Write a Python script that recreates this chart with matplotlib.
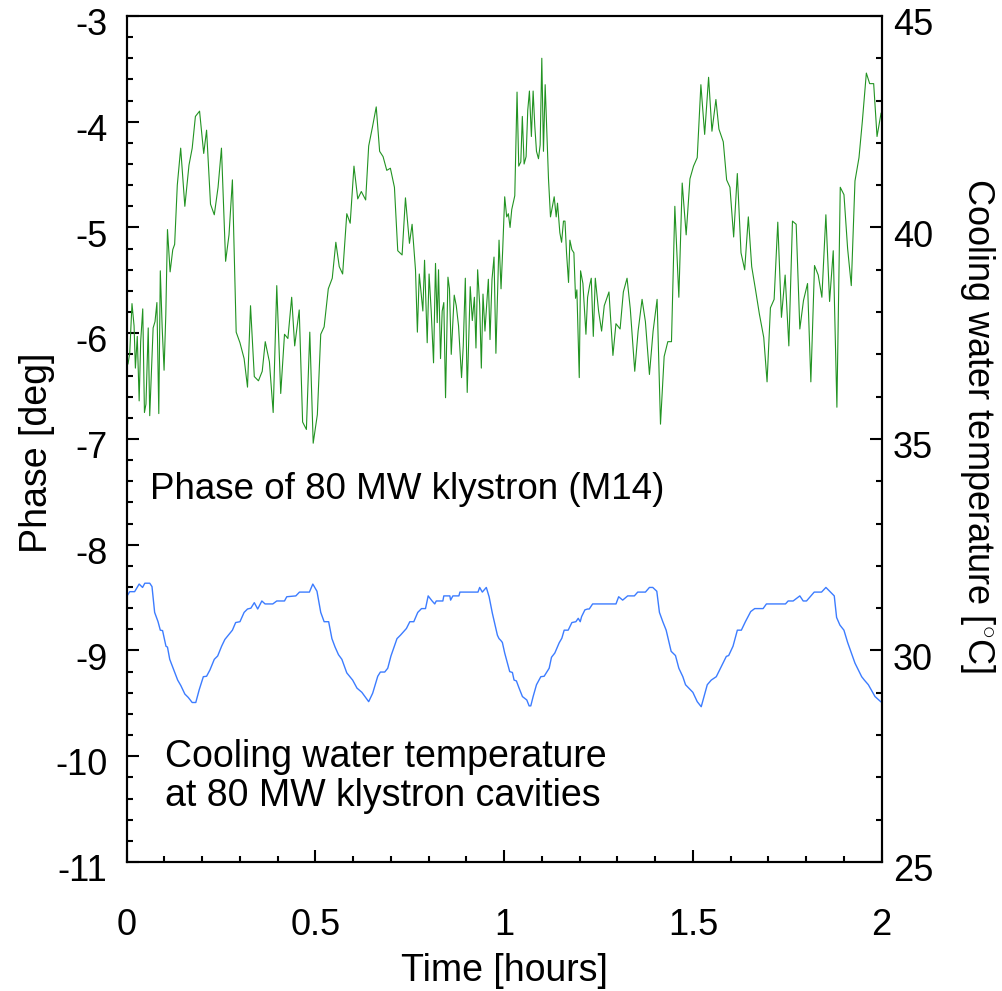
import matplotlib
matplotlib.use("Agg")
import matplotlib.pyplot as plt
from matplotlib.ticker import MultipleLocator, FormatStrFormatter
from matplotlib.transforms import ScaledTranslation

plt.rcParams['font.family'] = ['Liberation Sans', 'DejaVu Sans']
plt.rcParams['axes.unicode_minus'] = False
plt.rcParams['mathtext.fontset'] = 'custom'
plt.rcParams['mathtext.rm'] = 'Liberation Sans'

# phase of 80 MW klystron (M14), deg
phase_t = [0.0035, 0.008, 0.014, 0.0195, 0.023, 0.028, 0.033, 0.037, 0.0425, 0.047,
           0.051, 0.057, 0.061, 0.0655, 0.070, 0.075, 0.080, 0.085, 0.089, 0.094,
           0.099, 0.1036, 0.108, 0.115, 0.122, 0.127, 0.134, 0.143, 0.154, 0.165,
           0.1735, 0.182, 0.193, 0.204, 0.2116, 0.222, 0.232, 0.242, 0.251, 0.262,
           0.271, 0.280, 0.290, 0.300, 0.311, 0.320, 0.328, 0.338, 0.349, 0.359,
           0.367, 0.378, 0.388, 0.3975, 0.408, 0.418, 0.427, 0.437, 0.445, 0.457,
           0.466, 0.476, 0.485, 0.494, 0.505, 0.514, 0.523, 0.534, 0.5445, 0.554,
           0.563, 0.572, 0.583, 0.592, 0.602, 0.612, 0.6215, 0.633, 0.641, 0.651,
           0.661, 0.670, 0.6791, 0.6889, 0.6985, 0.7092, 0.718, 0.7295, 0.7384, 0.749,
           0.756, 0.765, 0.770, 0.775, 0.7845, 0.789, 0.796, 0.801, 0.8066, 0.8128,
           0.818, 0.8225, 0.826, 0.8313, 0.8357, 0.840, 0.8446, 0.851, 0.855, 0.8597,
           0.8676, 0.873, 0.879, 0.887, 0.8915, 0.897, 0.902, 0.910, 0.9155, 0.921,
           0.9252, 0.9296, 0.935, 0.9394, 0.9438, 0.949, 0.958, 0.9624, 0.9677, 0.973,
           0.978, 0.9863, 0.9916, 0.996, 1.0013, 1.0066, 1.011, 1.0155, 1.020, 1.028,
           1.034, 1.0385, 1.044, 1.048, 1.0527, 1.058, 1.0624, 1.0668, 1.072, 1.0766,
           1.081, 1.0855, 1.0908, 1.0952, 1.0996, 1.104, 1.1085, 1.1173, 1.1226, 1.1324,
           1.1377, 1.1412, 1.1474, 1.152, 1.157, 1.161, 1.1651, 1.1704, 1.174, 1.1793,
           1.1846, 1.189, 1.1925, 1.1988, 1.2023, 1.2085, 1.2165, 1.2209, 1.2262, 1.2306,
           1.236, 1.2413, 1.250, 1.258, 1.265, 1.2775, 1.288, 1.296, 1.307, 1.3156,
           1.3254, 1.334, 1.3458, 1.3547, 1.3652, 1.374, 1.3847, 1.3944, 1.405, 1.414,
           1.4237, 1.4334, 1.4431, 1.452, 1.4626, 1.4715, 1.482, 1.492, 1.5015, 1.5113,
           1.521, 1.531, 1.5414, 1.5503, 1.5608, 1.5688, 1.5803, 1.5892, 1.598, 1.6078,
           1.6175, 1.6273, 1.637, 1.6467, 1.6556, 1.6653, 1.676, 1.6875, 1.6963, 1.7052,
           1.715, 1.7247, 1.7344, 1.7442, 1.754, 1.7636, 1.7734, 1.7831, 1.7928, 1.8035,
           1.8123, 1.822, 1.8318, 1.8415, 1.8521, 1.8619, 1.8716, 1.8813, 1.8902, 1.900,
           1.9097, 1.9194, 1.9292, 1.9398, 1.9486, 1.9593, 1.9681, 1.9787, 1.9876, 1.9982]
phase_deg = [-6.29, -6.19, -5.72, -5.93, -6.33, -6.03, -6.64, -6.08, -5.77, -6.75,
             -6.67, -5.95, -6.78, -6.36, -5.95, -5.89, -5.71, -6.76, -5.41, -5.95,
             -6.35, -5.82, -5.02, -5.42, -5.21, -5.16, -4.60, -4.25, -4.80, -4.41,
             -4.25, -3.95, -3.90, -4.30, -4.08, -4.78, -4.88, -4.62, -4.25, -5.32,
             -5.07, -4.55, -5.99, -6.09, -6.24, -6.51, -5.74, -6.41, -6.45, -6.36,
             -6.08, -6.27, -6.75, -5.55, -6.57, -6.01, -6.05, -5.66, -6.12, -5.78,
             -6.84, -6.91, -5.99, -7.04, -6.77, -6.01, -5.94, -5.58, -5.48, -5.14,
             -5.37, -5.44, -4.87, -4.96, -4.42, -4.73, -4.66, -4.74, -4.23, -4.05,
             -3.86, -4.28, -4.33, -4.46, -4.44, -4.62, -5.22, -5.26, -4.72, -5.15,
             -4.97, -5.40, -5.99, -5.44, -5.79, -5.31, -6.09, -5.44, -5.79, -6.28,
             -5.34, -5.90, -5.40, -6.24, -5.79, -5.71, -6.61, -5.47, -5.58, -6.20,
             -5.64, -5.74, -5.93, -6.42, -6.12, -5.48, -6.56, -5.56, -5.88, -5.66,
             -6.14, -5.40, -5.73, -6.33, -5.63, -5.98, -5.49, -6.06, -5.49, -5.28,
             -6.19, -5.12, -5.58, -5.21, -4.71, -4.90, -4.87, -5.00, -4.83, -4.70,
             -3.72, -4.42, -4.38, -3.95, -4.40, -4.33, -3.89, -3.71, -4.14, -3.71,
             -4.04, -4.28, -4.35, -4.22, -3.40, -4.28, -3.65, -4.54, -4.90, -4.71,
             -4.90, -4.77, -5.05, -5.14, -4.94, -4.94, -5.24, -5.52, -5.12, -5.21,
             -5.24, -5.67, -5.59, -6.42, -5.41, -5.53, -6.01, -5.66, -5.55, -5.48,
             -6.03, -5.48, -5.79, -5.98, -5.74, -5.61, -6.21, -5.91, -5.96, -5.61,
             -5.48, -5.77, -6.36, -5.98, -5.68, -5.89, -6.39, -5.98, -5.68, -6.86,
             -6.22, -6.08, -6.08, -4.80, -5.66, -4.58, -5.07, -4.54, -4.42, -4.34,
             -3.65, -4.12, -3.58, -4.09, -3.79, -4.07, -4.19, -4.55, -4.62, -5.09,
             -4.49, -5.24, -5.40, -4.90, -5.37, -5.58, -5.82, -6.04, -6.46, -5.76,
             -5.68, -4.95, -5.85, -5.45, -6.12, -4.94, -4.97, -5.96, -5.69, -5.53,
             -6.46, -5.36, -5.45, -5.66, -4.88, -5.70, -5.22, -6.70, -4.62, -4.69,
             -5.20, -5.55, -4.56, -4.34, -4.00, -3.54, -3.64, -3.64, -4.14, -3.92]

# cooling water temperature at klystron cavities, deg C
temp_t = [0.001, 0.008, 0.021, 0.033, 0.042, 0.048, 0.061, 0.067, 0.074, 0.083,
          0.089, 0.095, 0.104, 0.108, 0.114, 0.123, 0.135, 0.1434, 0.154, 0.163,
          0.1735, 0.183, 0.192, 0.203, 0.2116, 0.2205, 0.232, 0.241, 0.2514, 0.260,
          0.269, 0.280, 0.2886, 0.300, 0.311, 0.320, 0.329, 0.338, 0.347, 0.358,
          0.3665, 0.387, 0.3975, 0.418, 0.424, 0.448, 0.4577, 0.484, 0.493, 0.504,
          0.514, 0.523, 0.535, 0.5436, 0.552, 0.561, 0.570, 0.583, 0.5985, 0.610,
          0.623, 0.641, 0.6516, 0.665, 0.672, 0.6835, 0.6915, 0.700, 0.716, 0.725,
          0.741, 0.750, 0.7605, 0.771, 0.781, 0.7915, 0.7986, 0.809, 0.816, 0.820,
          0.8375, 0.840, 0.856, 0.858, 0.864, 0.880, 0.8827, 0.9305, 0.935, 0.942,
          0.9526, 0.960, 0.9686, 0.982, 0.9863, 0.9907, 0.9951, 1.0013, 1.0084, 1.0146,
          1.0217, 1.0261, 1.0323, 1.0394, 1.0483, 1.0598, 1.066, 1.0704, 1.0766, 1.0855,
          1.097, 1.1058, 1.1191, 1.1253, 1.1341, 1.1456, 1.1527, 1.1589, 1.1695, 1.1793,
          1.1899, 1.1961, 1.2014, 1.205, 1.2138, 1.2209, 1.2253, 1.2342, 1.2961, 1.3032,
          1.3138, 1.3271, 1.3448, 1.3537, 1.3741, 1.3847, 1.3935, 1.4042, 1.4112, 1.4201,
          1.429, 1.4422, 1.4537, 1.4626, 1.4732, 1.4803, 1.4998, 1.5113, 1.5219, 1.5379,
          1.5485, 1.5618, 1.5751, 1.5884, 1.5946, 1.6061, 1.6176, 1.6282, 1.6389, 1.653,
          1.6636, 1.6858, 1.6946, 1.7451, 1.7521, 1.7654, 1.7831, 1.792, 1.8008, 1.8123,
          1.8212, 1.8406, 1.8522, 1.8743, 1.8805, 1.8893, 1.8999, 1.9097, 1.9292, 1.9469,
          1.954, 1.9646, 1.9823, 1.9973]
temp_c = [31.29, 31.39, 31.39, 31.57, 31.49, 31.59, 31.59, 31.51, 30.90, 30.68,
          30.48, 30.47, 30.10, 30.08, 29.79, 29.58, 29.30, 29.17, 28.97, 28.89,
          28.77, 28.77, 29.07, 29.38, 29.39, 29.54, 29.79, 29.87, 30.10, 30.26,
          30.36, 30.48, 30.66, 30.68, 30.90, 30.98, 31.00, 31.13, 30.98, 31.17,
          31.10, 31.10, 31.17, 31.17, 31.27, 31.29, 31.38, 31.38, 31.57, 31.40,
          30.90, 30.68, 30.68, 30.28, 30.08, 29.90, 29.79, 29.47, 29.30, 29.11,
          29.01, 28.79, 28.99, 29.39, 29.49, 29.49, 29.58, 29.87, 30.28, 30.36,
          30.52, 30.68, 30.68, 30.90, 30.99, 30.99, 31.29, 31.17, 31.10, 31.17,
          31.17, 31.29, 31.29, 31.19, 31.29, 31.29, 31.38, 31.38, 31.49, 31.38,
          31.49, 31.27, 30.88, 30.36, 30.28, 30.24, 30.19, 29.94, 29.70, 29.50,
          29.48, 29.30, 29.28, 29.11, 28.91, 28.83, 28.69, 28.69, 28.91, 29.19,
          29.38, 29.39, 29.58, 29.84, 29.94, 30.18, 30.29, 30.48, 30.48, 30.66,
          30.68, 30.76, 30.68, 30.80, 30.96, 30.98, 30.98, 31.10, 31.10, 31.27,
          31.19, 31.29, 31.29, 31.38, 31.38, 31.49, 31.49, 31.40, 30.90, 30.68,
          30.48, 29.98, 29.88, 29.58, 29.38, 29.19, 29.01, 28.79, 28.67, 29.19,
          29.30, 29.38, 29.62, 29.86, 29.88, 30.10, 30.48, 30.48, 30.68, 30.92,
          30.99, 30.99, 31.10, 31.10, 31.17, 31.17, 31.29, 31.17, 31.17, 31.29,
          31.38, 31.38, 31.49, 31.29, 30.78, 30.60, 30.48, 30.19, 29.70, 29.38,
          29.30, 29.19, 28.91, 28.79]

fig = plt.figure(figsize=(10.02, 9.91), dpi=100)
ax = fig.add_axes([0.12645, 0.1302, 0.7535, 0.8537])
ax2 = ax.twinx()

ax.plot(phase_t, phase_deg, color='#229322', lw=0.8)
ax2.plot(temp_t, temp_c, color='#3c7cff', lw=1.0)

ax.set_xlim(0, 2)
ax.set_ylim(-11, -3)
ax2.set_ylim(25, 45)

ax.xaxis.set_major_locator(MultipleLocator(0.5))
ax.xaxis.set_minor_locator(MultipleLocator(0.1))
ax.xaxis.set_major_formatter(FormatStrFormatter('%g'))
ax.yaxis.set_major_locator(MultipleLocator(1))
ax.yaxis.set_minor_locator(MultipleLocator(0.2))
ax.yaxis.set_major_formatter(FormatStrFormatter('%g'))
ax2.yaxis.set_major_locator(MultipleLocator(5))
ax2.yaxis.set_minor_locator(MultipleLocator(1))

for a in (ax, ax2):
    for s in a.spines.values():
        s.set_linewidth(1.5)
    a.tick_params(which='both', direction='in', width=1.5, labelsize=26)
    a.tick_params(which='major', length=8.6)
    a.tick_params(which='minor', length=4.3)
ax.tick_params(axis='y', pad=14)
ax.tick_params(axis='x', pad=33)
ax2.tick_params(axis='y', pad=8)

# y tick labels sit a little below their ticks in the original
shift = ScaledTranslation(0, -4 / 72, fig.dpi_scale_trans)
for lbl in ax.get_yticklabels() + ax2.get_yticklabels():
    lbl.set_transform(lbl.get_transform() + shift)

ax.set_xlabel('Time [hours]', fontsize=27, labelpad=7)
ax.set_ylabel('Phase [deg]', fontsize=27, labelpad=0)
ax.yaxis.label.set_y(0.484)
ax2.set_ylabel('Cooling water temperature [$^{\\circ}$C]', fontsize=26,
               rotation=270, labelpad=46)
ax2.yaxis.label.set_y(0.516)

ax.text(0.061, -7.48, 'Phase of 80 MW klystron (M14)', fontsize=26.5, va='center')
ax.text(0.101, -10.19, 'Cooling water temperature\nat 80 MW klystron cavities',
        fontsize=27, va='center', linespacing=1.1)

fig.savefig('out.png', dpi=100)
